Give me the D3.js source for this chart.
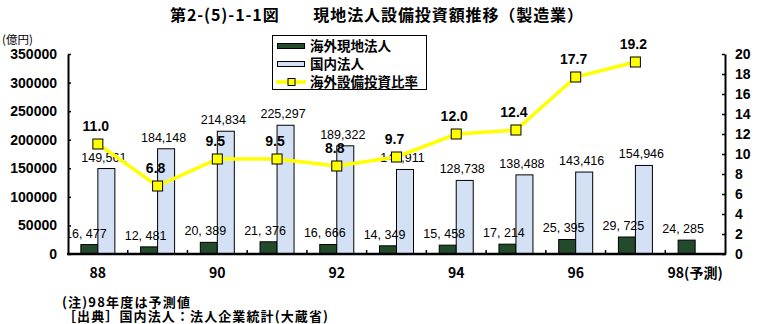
<!DOCTYPE html>
<html lang="ja">
<head>
<meta charset="utf-8">
<script src="https://cdn.jsdelivr.net/npm/d3@7/dist/d3.min.js"></script>
<style>
  html, body { margin: 0; padding: 0; background: #fff; }
  svg { display: block; }
  .num { font-family: "Liberation Sans", Arial, sans-serif; }
  .jp { font-family: "Noto Sans CJK JP", "Noto Sans", sans-serif; }
</style>
</head>
<body>
<svg id="chart" width="761" height="324"></svg>
<script>
// Fiscal years (category axis)
const years = ["88", "89", "90", "91", "92", "93", "94", "95", "96", "97", "98"];
const yearLabels = ["88", "", "90", "", "92", "", "94", "", "96", "", "98(予測)"];
// 海外現地法人 設備投資額（億円）
const overseas = [16477, 12481, 20389, 21376, 16666, 14349, 15458, 17214, 25395, 29725, 24285];
// 国内法人 設備投資額（億円）, no value for 98
const domestic = [149561, 184148, 214834, 225297, 189322, 147911, 128738, 138488, 143416, 154946, null];
// 海外設備投資比率（%）, no value for 98
const ratio = [11.0, 6.8, 9.5, 9.5, 8.8, 9.7, 12.0, 12.4, 17.7, 19.2, null];
// Axis ticks
const leftTicks = [0, 50000, 100000, 150000, 200000, 250000, 300000, 350000];
const rightTicks = [0, 2, 4, 6, 8, 10, 12, 14, 16, 18, 20];

const svg = d3.select("#chart");
const plotL = 68, plotR = 725, plotT = 54, plotB = 254;

const x = d3.scaleBand().domain(years).range([plotL, plotR]).padding(0);
const bw = x.bandwidth();
const inner = d3.scaleBand().domain(["overseas", "domestic"]).range([bw / 2 - 17, bw / 2 + 17]).padding(0);
const yL = d3.scaleLinear().domain([0, 350000]).range([plotB, plotT]);
const yR = d3.scaleLinear().domain([0, 20]).range([plotB, plotT]);
const cx = y => x(y) + bw / 2;

const darkFill = "#244a2c", lightFill = "#d4e1f5";

// Title
svg.append("text").attr("class", "jp")
  .attr("x", 170).attr("y", 21)
  .attr("textLength", 413).attr("lengthAdjust", "spacing")
  .style("font-size", "16px").style("font-weight", "700")
  .text("第2-(5)-1-1図　　現地法人設備投資額推移（製造業）");

// Unit
svg.append("text").attr("class", "jp")
  .attr("x", 2).attr("y", 44)
  .style("font-size", "11.5px")
  .text("(億円)");

// Bars
const rows = years.map((y, i) => ({ year: y, overseas: overseas[i], domestic: domestic[i], ratio: ratio[i] }));

svg.append("g").selectAll("rect").data(rows).join("rect")
  .attr("x", d => x(d.year) + inner("overseas"))
  .attr("y", d => yL(d.overseas))
  .attr("width", inner.bandwidth())
  .attr("height", d => plotB - yL(d.overseas))
  .attr("fill", darkFill).attr("stroke", "#000").attr("stroke-width", 1);

svg.append("g").selectAll("rect").data(rows.filter(d => d.domestic != null)).join("rect")
  .attr("x", d => x(d.year) + inner("domestic"))
  .attr("y", d => yL(d.domestic))
  .attr("width", inner.bandwidth())
  .attr("height", d => plotB - yL(d.domestic))
  .attr("fill", lightFill).attr("stroke", "#000").attr("stroke-width", 1);

// Bar value labels, clipped to the plot area
svg.append("clipPath").attr("id", "plotClip")
  .append("rect").attr("x", plotL + 1).attr("y", 0).attr("width", 761 - plotL).attr("height", 324);

const labels = svg.append("g").attr("clip-path", "url(#plotClip)")
  .attr("class", "num").style("font-size", "12.5px").attr("text-anchor", "middle");

labels.append("g").selectAll("text").data(rows).join("text")
  .attr("x", d => cx(d.year) - 12)
  .attr("y", d => yL(d.overseas) - 7)
  .text(d => d3.format(",")(d.overseas).replace(",", ", "));

labels.append("g").selectAll("text").data(rows.filter(d => d.domestic != null)).join("text")
  .attr("x", d => cx(d.year) + 6)
  .attr("y", d => yL(d.domestic) - 7)
  .text(d => d3.format(",")(d.domestic));

// Ratio line
const pts = rows.filter(d => d.ratio != null);
svg.append("path").datum(pts)
  .attr("fill", "none").attr("stroke", "#ffff00").attr("stroke-width", 3.5)
  .attr("d", d3.line().x(d => cx(d.year)).y(d => yR(d.ratio)));

svg.append("g").selectAll("rect").data(pts).join("rect")
  .attr("x", d => cx(d.year) - 5).attr("y", d => yR(d.ratio) - 5)
  .attr("width", 10).attr("height", 10)
  .attr("fill", "#ffff00").attr("stroke", "#000").attr("stroke-width", 1);

svg.append("g").attr("class", "num").attr("text-anchor", "middle")
  .style("font-size", "14px").style("font-weight", "700")
  .selectAll("text").data(pts).join("text")
  .attr("x", d => cx(d.year) - 2)
  .attr("y", d => yR(d.ratio) - 13)
  .text(d => d3.format(".1f")(d.ratio));

// Axes
const axL = svg.append("g").attr("transform", `translate(${plotL},0)`)
  .call(d3.axisLeft(yL).tickValues(leftTicks).tickFormat(d3.format("d")).tickSizeInner(-3).tickSizeOuter(0).tickPadding(11));
const axR = svg.append("g").attr("transform", `translate(${plotR},0)`)
  .call(d3.axisRight(yR).tickValues(rightTicks).tickSizeInner(-3).tickSizeOuter(0).tickPadding(10));
[axL, axR].forEach(ax => {
  ax.select(".domain").attr("stroke-width", 2);
  ax.selectAll(".tick line").attr("stroke-width", 1.5);
  ax.selectAll("text").attr("class", "num").style("font-size", "14px").style("font-weight", "700").attr("fill", "#000");
});

const axB = svg.append("g").attr("transform", `translate(0,${plotB})`)
  .call(d3.axisBottom(x).tickSize(0).tickPadding(14).tickFormat((d, i) => yearLabels[i]));
axB.select(".domain").attr("stroke-width", 2.5).attr("d", `M${plotL - 1},0H${plotR + 1}`);
axB.selectAll("text").attr("class", "jp").style("font-size", "14px").style("font-weight", "700").attr("fill", "#000");

// Category separators on the base line
svg.append("g").selectAll("line").data(years.slice(1)).join("line")
  .attr("x1", d => x(d)).attr("x2", d => x(d))
  .attr("y1", plotB).attr("y2", plotB - 4)
  .attr("stroke", "#000").attr("stroke-width", 1.5);

// Legend
const lg = svg.append("g");
lg.append("rect").attr("x", 272.5).attr("y", 35.5).attr("width", 154).attr("height", 54)
  .attr("fill", "#fff").attr("stroke", "#000").attr("stroke-width", 1);
const legendItems = [
  { name: "海外現地法人", type: "bar", fill: darkFill, y: 46 },
  { name: "国内法人", type: "bar", fill: lightFill, y: 64 },
  { name: "海外設備投資比率", type: "line", y: 82 }
];
legendItems.forEach(it => {
  if (it.type === "bar") {
    lg.append("rect").attr("x", 277.5).attr("y", it.y - 2.5).attr("width", 27).attr("height", 5)
      .attr("fill", it.fill).attr("stroke", "#000").attr("stroke-width", 1);
  } else {
    lg.append("line").attr("x1", 276).attr("x2", 306).attr("y1", it.y).attr("y2", it.y)
      .attr("stroke", "#ffff00").attr("stroke-width", 3.5);
    lg.append("rect").attr("x", 288).attr("y", it.y - 3.5).attr("width", 7).attr("height", 7)
      .attr("fill", "#ffff00").attr("stroke", "#000").attr("stroke-width", 1);
  }
  lg.append("text").attr("class", "jp").attr("x", 310).attr("y", it.y + 5)
    .style("font-size", "13.5px").style("font-weight", "700").text(it.name);
});

// Notes
svg.append("text").attr("class", "jp").attr("x", 62).attr("y", 307)
  .attr("textLength", 128).attr("lengthAdjust", "spacing")
  .style("font-size", "13px").style("font-weight", "700").text("(注)98年度は予測値");
svg.append("text").attr("class", "jp").attr("x", 63).attr("y", 321)
  .attr("textLength", 265).attr("lengthAdjust", "spacing")
  .style("font-size", "13px").style("font-weight", "700").text("［出典］国内法人：法人企業統計(大蔵省)");
</script>
</body>
</html>
